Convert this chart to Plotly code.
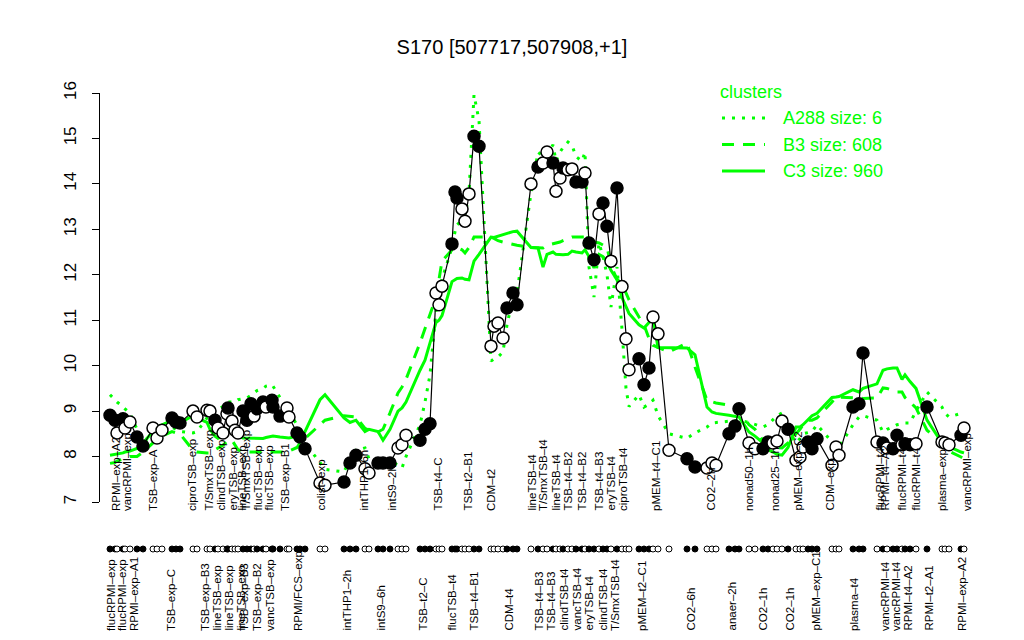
import plotly.graph_objects as go

# sample positions along the axis
pos = [10,15,17,23,25,30,37,43, 53,57,62, 72,76,80, 93,97, 107,110,115,118,123,
       127,128,132,135,138, 143,147,151,154,157, 163,166,172,173,180, 187,189,197,200,205,
       220,225, 244,250,256,265,269, 278,283,290,298,302,306, 320,325,330,336,339,342,
       352,355,357,362,365,369, 374,379, 391,394,398,403,407,413,417,
       431,438,443,447,453,456,460,463,468,472,476,482,485,
       489,494,499,503,507,511,517, 522,526,529, 539,544,549,553,558, 569, 587,595,
       607,612,616, 629,635,639, 649,655,663,668,673,677,682,688,
       696,700,703,708,712,717, 732,736,739, 753,759,763,
       777,783,787,793,797,802,805,810,816, 827, 842,845,849, 861,864]

expr = [8.91,8.80,8.52,8.83,8.63,8.76,8.43,8.23, 8.63,8.41,8.58, 8.85,8.76,8.74, 9.00,8.87,
        9.02,9.00,8.80,8.63,8.52, 8.94,9.07,8.78,8.58,8.52, 9.00,8.80,9.16,8.89,9.05,
        9.20,9.09,9.24,9.09,8.89, 9.07,8.87,8.52,8.43,8.17, 7.42,7.37,
        7.44,7.86,8.03,7.73,7.64, 7.86,7.86,7.86,8.19,8.26,8.47,
        8.36,8.60,8.72,11.60,11.34,11.75, 12.68,13.82,13.69,13.45,13.18,13.78,
        15.05,14.83, 10.43,10.87,10.94,10.61,11.27,11.60,11.34,
        14.00,14.37,14.46,14.70,14.46,13.84,14.13,14.35,14.31,14.33,14.04,14.04,14.24,
        12.70,12.33,13.34,13.58,13.07,12.30,13.91, 11.74,10.59,9.91,
        10.15,9.58,9.95,11.07,10.70, 8.14, 7.95,7.77, 7.75,7.86,7.81, 8.50,8.67,9.05,
        8.30,8.17,8.17,8.32,8.30,8.34,8.78,8.60, 7.92,7.99,8.21,8.32,8.17,8.39,
        7.81,8.21,8.03, 9.09,9.16,10.28,
        8.32,8.30,8.19,8.17,8.47,8.26,8.28,8.26,8.28, 9.09, 8.32,8.30,8.26, 8.47,8.63]

filled = [1,1,0,1,0,0,1,1, 0,0,0, 1,1,1, 0,0, 0,0,1,0,0, 0,1,0,0,0, 1,1,1,0,1,
          1,0,1,1,1, 0,0,1,1,1, 0,0, 1,1,1,0,0, 1,1,1,0,0,0, 1,1,1,0,0,0,
          1,1,1,0,0,0, 1,1, 0,0,0,0,1,1,1, 0,1,0,0,1,0,0,1,0,0,1,1,0,
          1,1,0,1,1,0,1, 0,0,0, 1,1,1,0,0, 0, 1,1, 0,0,0, 1,1,1,
          0,0,1,1,0,0,0,1, 0,0,0,1,1,1, 0,0,0, 1,1,1,
          0,1,0,1,1,0,1,1,0, 1, 0,0,0, 1,0]

c3 = [8.03,8.05,8.05,8.08,8.10,8.12,8.18,8.30, 8.55,8.65,8.70, 8.80,8.78,8.74, 8.90,8.85,
      8.75,8.60,8.45,8.40,8.45, 8.58,8.58,8.55,8.50,8.45, 8.41,8.41,8.41,8.41,8.40,
      8.40,8.42,8.45,8.45,8.43, 8.42,8.41,8.45,8.50,8.55, 9.25,9.36,
      8.85,8.75,8.80,8.55,8.60, 8.55,8.36,8.60,9.00,9.07,9.20,
      9.90,10.12,10.50,10.95,11.00,11.10, 11.85,11.90,11.92,11.93,11.90,11.89,
      12.30,12.45, 12.83,12.82,12.85,12.88,12.92,12.95,12.96,
      12.60,12.59,12.17,12.45,12.50,12.45,12.44,12.44,12.45,12.52,12.50,12.48,12.55,
      12.40,12.15,12.45,12.40,12.28,12.10,11.89, 11.50,11.30,11.15,
      10.90,10.83,10.95,11.05,10.40, 10.39, 10.39,10.24, 9.09,8.98,8.95, 8.91,8.89,8.87,
      8.54,8.45,8.30,8.15,8.10,8.05,8.03,8.20, 8.65,8.65,8.70,8.80,8.90,8.95,
      9.30,9.31,9.32, 9.47,9.42,9.50,
      9.60,9.90,9.93,9.95,9.95,9.70,9.80,9.65,9.50, 8.80, 8.30,8.25,8.22, 8.10,8.08]

b3 = [7.85,7.87,7.90,7.95,7.97,8.00,8.00,8.10, 8.30,8.40,8.45, 8.55,8.52,8.50, 8.14,8.10,
      8.08,8.08,8.15,8.19,8.25, 8.33,8.36,8.36,8.25,8.15, 8.10,8.10,8.10,8.10,8.10,
      8.10,8.10,8.10,8.10,8.10, 8.10,8.12,8.20,8.30,8.40, 8.70,8.80,
      8.90,8.88,8.87,8.62,8.58, 8.54,8.60,8.96,9.40,9.53,9.70,
      10.50,10.80,11.10,11.50,11.90,12.30, 12.55,12.60,12.60,12.55,12.48,12.60,
      12.83,12.83, 12.83,12.80,12.75,12.72,12.70,12.68,12.65,
      12.60,12.60,12.59,12.65,12.68,12.70,12.72,12.75,12.80,12.83,12.83,12.83,12.83,
      12.78,12.72,12.70,12.65,12.61,12.20,11.90, 11.80,11.60,11.45,
      11.07,10.90,10.60,10.45,10.40, 10.30, 10.50,9.97, 9.24,9.20,9.18, 9.13,9.10,9.00,
      8.70,8.60,8.35,8.30,8.25,8.20,8.19,8.30, 8.50,8.60,8.70,8.80,8.80,8.85,
      9.20,9.31,9.31, 9.30,9.29,9.28,
      9.29,9.51,9.50,9.45,9.42,9.42,9.30,9.20,9.07, 8.58, 8.30,8.20,8.12, 7.99,7.95]

a288 = [9.36,9.25,9.20,9.10,9.05,8.95,8.60,8.21, 8.69,8.60,8.65, 8.65,8.60,8.55, 8.52,8.55,
        8.85,8.96,9.00,9.05,9.10, 9.15,9.20,9.20,9.20,9.25, 9.27,9.29,9.35,9.40,9.45,
        9.50,9.55,9.58,9.55,9.30, 9.10,9.00,8.70,8.58,8.30, 7.85,7.72,
        7.66,7.95,8.14,8.19,7.95, 7.92,7.92,7.92,7.80,7.75,8.00,
        8.70,9.20,9.80,11.20,11.50,11.90, 12.60,12.95,13.10,13.20,13.30,13.80,
        15.96,15.40, 10.10,10.15,10.19,10.30,10.90,11.50,11.60,
        13.80,14.70,14.60,14.65,14.86,14.50,14.70,14.80,14.92,14.85,14.60,14.50,14.70,
        12.17,11.51,12.70,12.40,12.00,11.29,12.17, 10.80,9.50,9.10,
        9.36,9.09,9.15,9.24,8.90, 8.50, 8.40,8.52, 8.65,8.74,8.75, 8.78,8.80,8.80,
        8.75,8.70,8.65,8.70,8.80,8.90,8.96,8.60, 8.30,8.40,8.50,8.52,8.55,8.70,
        8.32,8.25,8.21, 8.70,8.87,8.90,
        8.80,8.54,8.60,8.65,8.70,8.72,8.74,8.74,9.00, 9.42, 9.09,8.95,8.87, 8.95,8.98]

top_pos = [16,27,53,92,108,120,132,141,145,157,168,185,220,263,291,337,367,391,
           431,443,455,467,481,498,510,523,556,610,649,675,697,729,779,784,801,815,842,867]
top_text = ["RPMI\u2013exp\u2013A2","vancRPMI\u2013exp","TSB\u2013exp\u2013A","ciproTSB\u2013exp",
            "T/SmxTSB\u2013exp","clindTSB\u2013exp","eryTSB\u2013exp","lineTSB\u2013exp",
            "T/SmxTSB\u2013exp","flucTSB\u2013exp","flucTSB\u2013exp","TSB\u2013exp\u2013B1",
            "colist\u2013exp","intTHP1\u20136h","intS9\u20132h","TSB\u2013t4\u2013C","TSB\u2013t2\u2013B1",
            "CDM\u2013t2","lineTSB\u2013t4","T/SmxTSB\u2013t4","lineTSB\u2013t4","TSB\u2013t4\u2013B2",
            "TSB\u2013t4\u2013B2","TSB\u2013t4\u2013B3","eryTSB\u2013t4","ciproTSB\u2013t4",
            "pMEM\u2013t4\u2013C1","CO2\u20132h","nonad50\u20131h","nonad25\u20131h",
            "pMEM\u2013exp\u2013C2","CDM\u2013exp","flucRPMI\u2013t4","RPMI\u2013t4\u2013A2",
            "flucRPMI\u2013t4","flucRPMI\u2013t4","plasma\u2013exp","vancRPMI\u2013exp"]

bot_pos = [11,22,34,71,105,116,128,140,144,157,170,198,246,280,322,351,373,408,
           438,450,463,476,488,502,515,542,590,631,662,689,715,754,785,796,807,828,862]
bot_text = ["flucRPMI\u2013exp","flucRPMI\u2013exp","RPMI\u2013exp\u2013A1","TSB\u2013exp\u2013C",
            "TSB\u2013exp\u2013B3","lineTSB\u2013exp","lineTSB\u2013exp","lineTSB\u2013exp",
            "TSB\u2013exp\u2013B3","TSB\u2013exp\u2013B2","vancTSB\u2013exp","RPMI/FCS\u2013exp",
            "intTHP1\u20132h","intS9\u20136h","TSB\u2013t2\u2013C","flucTSB\u2013t4","TSB\u2013t4\u2013B1",
            "CDM\u2013t4","TSB\u2013t4\u2013B3","TSB\u2013t4\u2013B3","clindTSB\u2013t4","vancTSB\u2013t4",
            "eryTSB\u2013t4","clindTSB\u2013t4","T/SmxTSB\u2013t4","pMEM\u2013t2\u2013C1","CO2\u20136h",
            "anaer\u20132h","CO2\u20131h","CO2\u20131h","pMEM\u2013exp\u2013C1","plasma\u2013t4",
            "vancRPMI\u2013t4","vancRPMI\u2013t4","RPMI\u2013t4\u2013A2","RPMI\u2013t2\u2013A1",
            "RPMI\u2013exp\u2013A2"]

legend_names = ["A288 size: 6", "B3 size: 608", "C3 size: 960"]
title_text = "S170 [507717,507908,+1]"

GREEN = "#00ff00"
FONT = "Liberation Sans, Arial, sans-serif"
W, H = 1024, 640
ML, MR, MT, MB = 100, 49, 93, 80
PW, PH = W - ML - MR, H - MT - MB


def px_x(p):
    return (p - ML) / PW


def px_y(p):
    return (H - MB - p) / PH


fig = go.Figure()
fig.add_trace(go.Scatter(x=pos, y=a288, mode="lines", line=dict(color=GREEN, width=3, dash="3px,7px"),
                         hoverinfo="skip", showlegend=False))
fig.add_trace(go.Scatter(x=pos, y=b3, mode="lines", line=dict(color=GREEN, width=3, dash="12px,9px"),
                         hoverinfo="skip", showlegend=False))
fig.add_trace(go.Scatter(x=pos, y=c3, mode="lines", line=dict(color=GREEN, width=3),
                         hoverinfo="skip", showlegend=False))
fig.add_trace(go.Scatter(x=pos, y=expr, mode="lines+markers",
                         line=dict(color="black", width=1.2),
                         marker=dict(size=12, color=["black" if f else "white" for f in filled],
                                     line=dict(color="black", width=1.5)),
                         showlegend=False))
fig.add_trace(go.Scatter(x=pos, y=[0.5] * len(pos), yaxis="y2", mode="markers",
                         marker=dict(size=6, color=["black" if f else "white" for f in filled],
                                     line=dict(color="black", width=1)),
                         showlegend=False, hoverinfo="skip"))

main_bottom = px_y(502)
fig.update_layout(
    width=W, height=H, margin=dict(l=ML, r=MR, t=MT, b=MB, autoexpand=False),
    paper_bgcolor="white", plot_bgcolor="white",
    font=dict(family=FONT, color="black"),
    title=dict(text=title_text, x=0.5, xref="container", xanchor="center",
               y=1 - 47 / H, yref="container", yanchor="middle",
               font=dict(size=20, family=FONT, color="black")),
    xaxis=dict(range=[0, PW], visible=False, automargin=False),
    yaxis=dict(domain=[main_bottom, 1], range=[7, 16], tickvals=list(range(7, 17)),
               showgrid=False, zeroline=False, showline=True, linecolor="black", linewidth=1,
               ticks="outside", ticklen=7, tickcolor="black", tickangle=-90,
               ticklabelstandoff=9, automargin=False,
               tickfont=dict(size=17, family=FONT, color="black")),
    yaxis2=dict(domain=[0, 22 / PH], range=[0, 1], visible=False, automargin=False),
)

ann = []
for p, t in zip(top_pos, top_text):
    ann.append(dict(x=p, xref="x", y=px_y(513), yref="paper", text=t, textangle=-90,
                    showarrow=False, xanchor="center", yanchor="bottom",
                    font=dict(size=11.5, family=FONT, color="black")))
for p, t in zip(bot_pos, bot_text):
    ann.append(dict(x=p, xref="x", y=px_y(633), yref="paper", text=t, textangle=-90,
                    showarrow=False, xanchor="center", yanchor="bottom",
                    font=dict(size=11.5, family=FONT, color="black")))

# legend
ann.append(dict(x=px_x(718), y=px_y(92), xref="paper", yref="paper", text="clusters",
                showarrow=False, xanchor="left", yanchor="middle",
                font=dict(size=18, family=FONT, color=GREEN)))
shapes = []
dashes = ["3px,7px", "12px,9px", "solid"]
for i, (nm, d) in enumerate(zip(legend_names, dashes)):
    yy = px_y(118 + i * 26.5)
    shapes.append(dict(type="line", xref="paper", yref="paper", x0=px_x(722), x1=px_x(765),
                       y0=yy, y1=yy, line=dict(color=GREEN, width=3, dash=d)))
    ann.append(dict(x=px_x(781), y=yy, xref="paper", yref="paper", text=nm, showarrow=False,
                    xanchor="left", yanchor="middle",
                    font=dict(size=18, family=FONT, color=GREEN)))

fig.update_layout(annotations=ann, shapes=shapes)
fig.write_html("out.html", config={"displayModeBar": False},
               post_script="document.body.style.margin='0';document.body.style.overflow='hidden';")
